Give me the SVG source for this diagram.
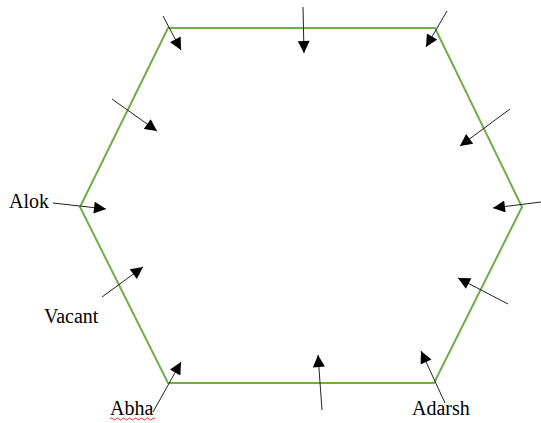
<svg xmlns="http://www.w3.org/2000/svg" width="541" height="423" viewBox="0 0 541 423">
<style>
.lbl{font-family:"Liberation Serif","Times New Roman",serif;font-size:20px;fill:#000}
.arr{stroke:#222;stroke-width:1;fill:none;marker-end:url(#ah)}
</style>
<defs>
<marker id="ah" viewBox="0 0 10 10" refX="10" refY="5" markerWidth="14" markerHeight="12" markerUnits="userSpaceOnUse" orient="auto">
<path d="M0,0 L10,5 L0,10 Z" fill="#000"/>
</marker>
</defs>
<rect width="541" height="423" fill="#fff"/>
<g id="hexagon">
<polygon points="168,28 435,28 522,207 434,383 168,383 80,207" fill="none" stroke="#70AD47" stroke-width="2"/>
</g>
<g id="connectors">
<line class="arr" x1="163" y1="16" x2="181" y2="50"/>
<line class="arr" x1="303" y1="7" x2="304" y2="53"/>
<line class="arr" x1="447" y1="11" x2="426" y2="47"/>
<line class="arr" x1="112" y1="99" x2="157" y2="131"/>
<line class="arr" x1="53" y1="203" x2="106" y2="209"/>
<line class="arr" x1="102" y1="297" x2="143" y2="267"/>
<line class="arr" x1="153" y1="412" x2="181" y2="362"/>
<line class="arr" x1="322" y1="410" x2="318" y2="355"/>
<line class="arr" x1="445" y1="403" x2="421" y2="351"/>
<line class="arr" x1="510" y1="109" x2="460" y2="146"/>
<line class="arr" x1="541" y1="202" x2="493" y2="208"/>
<line class="arr" x1="508" y1="304" x2="458" y2="278"/>
</g>
<g id="label-alok"><text class="lbl" x="9" y="208">Alok</text></g>
<g id="label-vacant"><text class="lbl" x="44" y="323">Vacant</text></g>
<g id="label-abha"><text class="lbl" x="110" y="415">Abha</text>
<path d="M110,419 q1.5,-2 3,0 t3,0 t3,0 t3,0 t3,0 t3,0 t3,0 t3,0 t3,0 t3,0 t3,0 t3,0 t3,0 t3,0 t3,0" fill="none" stroke="#e00" stroke-width="0.8"/></g>
<g id="label-adarsh"><text class="lbl" x="412" y="415">Adarsh</text></g>
</svg>
